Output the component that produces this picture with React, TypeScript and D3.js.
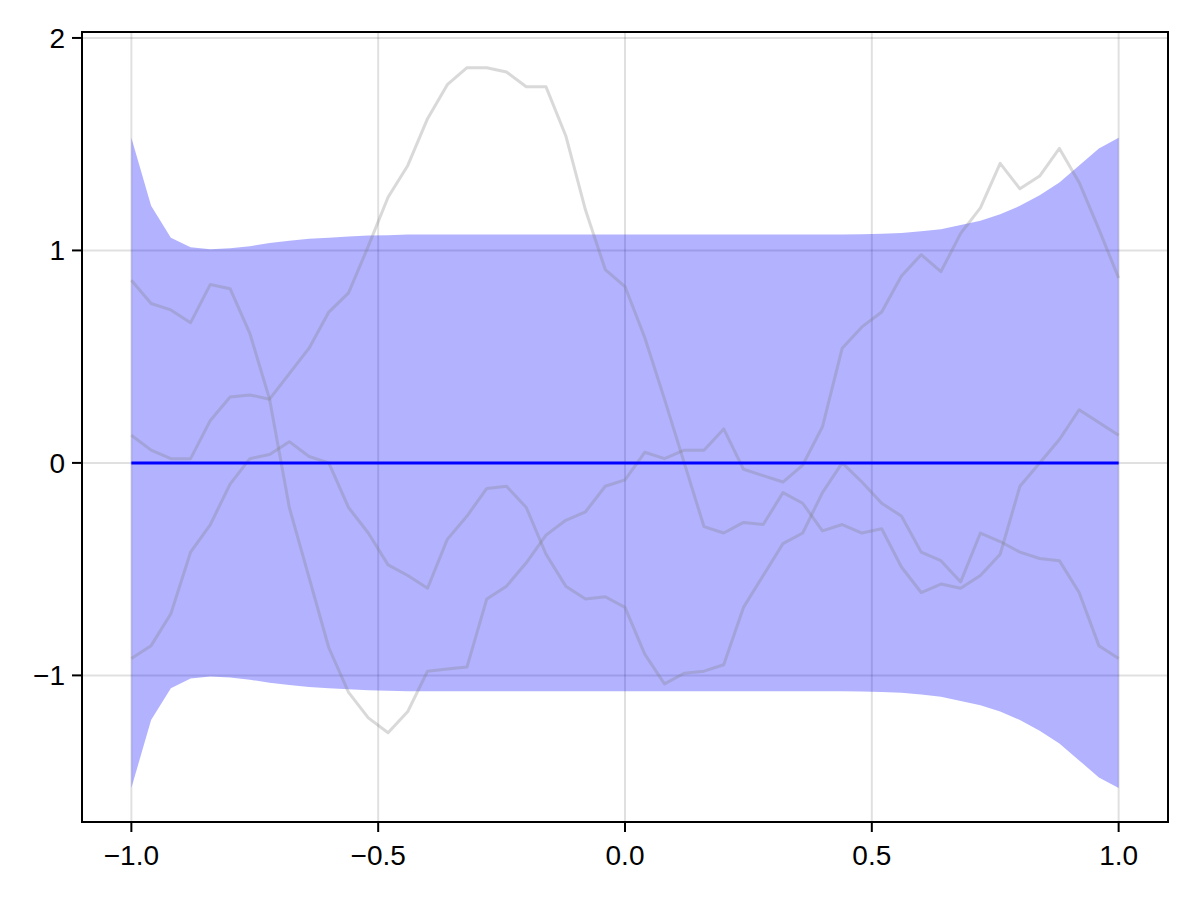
import React from 'react';
import * as d3 from 'd3';

// sample grid
const xs = [
  -1.0, -0.96, -0.92, -0.88, -0.84, -0.8, -0.76, -0.72, -0.68, -0.64, -0.6, -0.56, -0.52,
  -0.48, -0.44, -0.4, -0.36, -0.32, -0.28, -0.24, -0.2, -0.16, -0.12, -0.08, -0.04, 0.0,
  0.04, 0.08, 0.12, 0.16, 0.2, 0.24, 0.28, 0.32, 0.36, 0.4, 0.44, 0.48, 0.52, 0.56, 0.6,
  0.64, 0.68, 0.72, 0.76, 0.8, 0.84, 0.88, 0.92, 0.96, 1.0,
];

// posterior mean
const meanValues = [
  0, 0, 0, 0, 0, 0, 0, 0, 0, 0, 0, 0, 0, 0, 0, 0, 0, 0, 0, 0, 0, 0, 0, 0, 0, 0,
  0, 0, 0, 0, 0, 0, 0, 0, 0, 0, 0, 0, 0, 0, 0, 0, 0, 0, 0, 0, 0, 0, 0, 0, 0,
];

// band half width
const bandHalf = [
  1.53, 1.21, 1.06, 1.015, 1.005, 1.01, 1.02, 1.035, 1.045, 1.055, 1.06, 1.065, 1.07,
  1.072, 1.075, 1.075, 1.075, 1.075, 1.075, 1.075, 1.075, 1.075, 1.075, 1.075, 1.075, 1.075,
  1.075, 1.075, 1.075, 1.075, 1.075, 1.075, 1.075, 1.075, 1.075, 1.075, 1.075, 1.076, 1.078,
  1.082, 1.09, 1.1, 1.12, 1.14, 1.17, 1.21, 1.26, 1.32, 1.4, 1.48, 1.53,
];

// prior samples
const sampleA = [
  0.86, 0.75, 0.72, 0.66, 0.84, 0.82, 0.61, 0.3, -0.21, -0.54, -0.87, -1.08, -1.2,
  -1.27, -1.17, -0.98, -0.97, -0.96, -0.64, -0.58, -0.47, -0.34, -0.27, -0.23, -0.11, -0.08,
  0.05, 0.02, 0.06, 0.06, 0.16, -0.03, -0.06, -0.09, -0.01, 0.17, 0.54, 0.64, 0.71, 0.88,
  0.98, 0.9, 1.08, 1.2, 1.41, 1.29, 1.35, 1.48, 1.32, 1.1, 0.87,
];
const sampleB = [
  0.13, 0.06, 0.02, 0.02, 0.2, 0.31, 0.32, 0.3, 0.42, 0.54, 0.71, 0.8, 1.02,
  1.25, 1.4, 1.62, 1.78, 1.86, 1.86, 1.84, 1.77, 1.77, 1.54, 1.19, 0.91, 0.83,
  0.59, 0.3, 0.0, -0.3, -0.33, -0.28, -0.29, -0.14, -0.19, -0.32, -0.29, -0.33, -0.31, -0.49,
  -0.61, -0.57, -0.59, -0.53, -0.43, -0.11, 0.0, 0.11, 0.25, 0.19, 0.13,
];
const sampleC = [
  -0.92, -0.86, -0.71, -0.42, -0.29, -0.1, 0.02, 0.04, 0.1, 0.03, 0.0, -0.21, -0.33,
  -0.48, -0.53, -0.59, -0.36, -0.25, -0.12, -0.11, -0.21, -0.43, -0.58, -0.64, -0.63, -0.68,
  -0.9, -1.04, -0.99, -0.98, -0.95, -0.68, -0.53, -0.38, -0.33, -0.14, 0.0, -0.09, -0.19, -0.25,
  -0.42, -0.46, -0.56, -0.33, -0.37, -0.42, -0.45, -0.46, -0.61, -0.86, -0.92,
];
const samples = [sampleA, sampleB, sampleC];

const xTicks = [-1.0, -0.5, 0.0, 0.5, 1.0];
const xTickLabels = ['−1.0', '−0.5', '0.0', '0.5', '1.0'];
const yTicks = [-1, 0, 1, 2];
const yTickLabels = ['−1', '0', '1', '2'];

const W = 1200;
const H = 900;
const margin = { top: 32, right: 32, bottom: 78, left: 82 };

export default function App() {
  const x = d3.scaleLinear().domain([-1.1, 1.1]).range([margin.left, W - margin.right]);
  const y = d3.scaleLinear().domain([-1.69, 2.028]).range([H - margin.bottom, margin.top]);

  const idx = xs.map((_, i) => i);

  const band = d3.area<number>()
    .x(i => x(xs[i]))
    .y0(i => y(meanValues[i] - bandHalf[i]))
    .y1(i => y(meanValues[i] + bandHalf[i]));

  const lineOf = (vals: number[]) =>
    d3.line<number>()
      .x(i => x(xs[i]))
      .y(i => y(vals[i]))(idx) || '';

  const font = "'Liberation Sans', Arial, sans-serif";
  const [x0, x1] = x.range();
  const [yb, yt] = y.range();

  return (
    <div style={{ position: 'absolute', left: 0, top: 0 }}>
      <svg width={W} height={H} style={{ display: 'block', background: '#fff' }}>
        {/* grid */}
        <g stroke="rgba(0,0,0,0.12)" strokeWidth={2}>
          {xTicks.map(t => (
            <line key={'gx' + t} x1={x(t)} x2={x(t)} y1={yt} y2={yb} />
          ))}
          {yTicks.map(t => (
            <line key={'gy' + t} x1={x0} x2={x1} y1={y(t)} y2={y(t)} />
          ))}
        </g>

        {/* uncertainty band */}
        <path d={band(idx) || ''} fill="rgba(0,0,255,0.3)" />

        {/* samples */}
        {samples.map((s, k) => (
          <path key={k} d={lineOf(s)} fill="none" stroke="rgba(128,128,128,0.3)"
            strokeWidth={3} strokeLinejoin="round" />
        ))}

        {/* mean */}
        <path d={lineOf(meanValues)} fill="none" stroke="#0000ff" strokeWidth={3} />

        {/* frame */}
        <rect x={x0} y={yt} width={x1 - x0} height={yb - yt} fill="none" stroke="#000" strokeWidth={2} />

        {/* x axis */}
        {xTicks.map((t, i) => (
          <g key={'xt' + t}>
            <line x1={x(t)} x2={x(t)} y1={yb} y2={yb + 10} stroke="#000" strokeWidth={2} />
            <text x={x(t)} y={yb + 43} textAnchor="middle" fontFamily={font} fontSize={28} fill="#000">
              {xTickLabels[i]}
            </text>
          </g>
        ))}

        {/* y axis */}
        {yTicks.map((t, i) => (
          <g key={'yt' + t}>
            <line x1={x0 - 10} x2={x0} y1={y(t)} y2={y(t)} stroke="#000" strokeWidth={2} />
            <text x={x0 - 17} y={y(t) + 10} textAnchor="end" fontFamily={font} fontSize={28} fill="#000">
              {yTickLabels[i]}
            </text>
          </g>
        ))}
      </svg>
    </div>
  );
}
